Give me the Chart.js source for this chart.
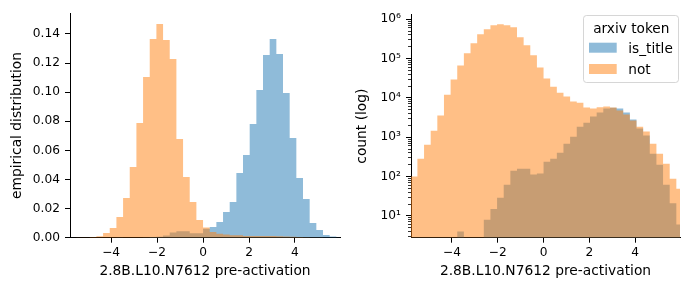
<!DOCTYPE html>
<html>
<head>
<meta charset="utf-8">
<script src="https://cdn.jsdelivr.net/npm/chart.js@4.4.1/dist/chart.umd.min.js"></script>
<style>
    html, body { margin: 0; padding: 0; background: #fff; }
    #wrap { position: relative; width: 689px; height: 290px; }
    canvas { position: absolute; top: 0; }
</style>
</head>
<body>
<div id="wrap">
    <canvas id="fracChart" width="345" height="290" style="left:0"></canvas>
    <canvas id="countChart" width="344" height="290" style="left:345px"></canvas>
</div>
<script>
// ---- data ----
const BIN_START = -5.80;
const BIN_WIDTH = 0.29;

const seriesNames = ['is_title', 'not'];

// left panel: fraction of tokens per bin
const fracTitle = [0, 0, 0, 0, 0, 0, 0, 0.0001, 0, 0, 0, 0.0002, 0.0004, 0.0007, 0.0015,
    0.0035, 0.0045, 0.0045, 0.0030, 0.0030, 0.0062, 0.0074, 0.0108, 0.0177, 0.0245,
    0.0444, 0.0568, 0.0781, 0.1015, 0.1256, 0.1366, 0.1263, 0.0995, 0.0685, 0.0411,
    0.0266, 0.0101, 0.0053, 0.0019, 0.0008, 0.0002];
const fracNot = [0, 0.0001, 0.0001, 0.0005, 0.0010, 0.0032, 0.0067, 0.0142, 0.0273, 0.0486,
    0.0788, 0.1104, 0.1366, 0.1469, 0.1359, 0.1228, 0.0678, 0.0417, 0.0245, 0.0122,
    0.0070, 0.0040, 0.0028, 0.0022, 0.0017, 0.0016, 0.0012, 0.0011, 0.0011, 0.0012,
    0.0011, 0.0010, 0.0008, 0.0006, 0.0004, 0.0003, 0.0001, 0.0001, 0, 0, 0];

// right panel: raw counts per bin (log axis)
const countTitle = [0, 0, 0, 0, 0, 0, 0, 4, 0, 0, 0, 8, 15, 29, 62,
    141, 158, 158, 113, 120, 239, 285, 405, 687, 1035,
    1860, 2350, 3360, 4250, 5370, 5600, 5370, 4250, 2810, 1660,
    1100, 382, 200, 62, 21, 6];
const countNot = [100, 285, 647, 1470, 3560, 12000, 29500, 67100, 136000, 244000,
    414000, 556000, 703000, 745000, 703000, 625000, 347000, 217000, 121000, 59700,
    31300, 19200, 13500, 10900, 8100, 7500, 5690, 5370, 5800, 6040,
    5700, 4780, 3780, 2650, 1860, 1390, 687, 382, 212, 88, 49];

const xTicks = [-4, -2, 0, 2, 4];
const fracTicks = [0, 0.02, 0.04, 0.06, 0.08, 0.10, 0.12, 0.14];
const countTicks = [10, 100, 1000, 10000, 100000, 1000000];

// ---- style ----
const FONT = "'DejaVu Sans', sans-serif";
Chart.defaults.font.family = FONT;
Chart.defaults.color = '#000';

const colors = {
    blue: 'rgba(31, 119, 180, 0.5)',
    orange: 'rgba(255, 127, 14, 0.5)'
};

const X_MIN = -5.79, X_MAX = 5.96;
const LOG_MIN = 2.79, LOG_MAX = 1.32e6;

const binEdges = [];
for (let i = 0; i <= fracNot.length; i++) binEdges.push(BIN_START + i * BIN_WIDTH);

// histogram outline as step points (left edge of each bin + closing right edge)
function stepPoints(values, floor) {
    const pts = values.map((v, i) => ({ x: binEdges[i], y: (floor && v <= 0) ? floor : v }));
    pts.push({ x: binEdges[values.length], y: pts[pts.length - 1].y });
    return pts;
}

function histDataset(label, values, color, order, floor) {
    return {
        label: label,
        data: stepPoints(values, floor),
        stepped: true,
        fill: 'start',
        backgroundColor: color,
        borderColor: 'transparent',
        borderWidth: 0,
        pointRadius: 0,
        order: order
    };
}

const minus = v => (v < 0 ? '\u2212' + Math.abs(v) : String(v));
const SUP = { '0': '\u2070', '1': '\u00b9', '2': '\u00b2', '3': '\u00b3', '4': '\u2074',
    '5': '\u2075', '6': '\u2076', '7': '\u2077', '8': '\u2078', '9': '\u2079' };

function xAxis() {
    return {
        type: 'linear',
        min: X_MIN,
        max: X_MAX,
        grid: { drawOnChartArea: false, tickLength: 5, tickColor: '#000', tickWidth: 1 },
        border: { color: '#000', width: 1 },
        ticks: { font: { size: 12.2 }, padding: 3, maxRotation: 0, autoSkip: false, callback: minus },
        afterBuildTicks: ax => { ax.ticks = xTicks.map(v => ({ value: v })); },
        afterFit: ax => { ax.height = 52.3; },
        title: { display: true, text: '2.8B.L10.N7612 pre-activation', font: { size: 13.8 },
                 padding: { top: 0, bottom: 10.7 } }
    };
}

// Chart 1: fraction per bin
new Chart(document.getElementById('fracChart'), {
    type: 'line',
    data: {
        datasets: [
            histDataset(seriesNames[0], fracTitle, colors.blue, 1),
            histDataset(seriesNames[1], fracNot, colors.orange, 0)
        ]
    },
    options: {
        responsive: false,
        animation: false,
        events: [],
        layout: { padding: { left: 0, right: 5, top: 13.3, bottom: 0 } },
        plugins: { legend: { display: false }, tooltip: { enabled: false } },
        scales: {
            x: xAxis(),
            y: {
                type: 'linear',
                min: 0,
                max: 0.1542,
                grid: { drawOnChartArea: false, tickLength: 5, tickColor: '#000', tickWidth: 1 },
                border: { color: '#000', width: 1 },
                ticks: { font: { size: 12.2 }, padding: 5, autoSkip: false,
                         callback: v => v.toFixed(2) },
                afterBuildTicks: ax => { ax.ticks = fracTicks.map(v => ({ value: v })); },
                afterFit: ax => { ax.width = 70; },
                title: { display: true, text: 'empirical distribution', font: { size: 13.8 },
                         padding: { top: 8.7, bottom: 0 } }
            }
        }
    }
});

// legend drawn matplotlib-style in the upper right of the count panel
const legendBox = {
    id: 'legendBox',
    afterDraw(chart) {
        const ctx = chart.ctx;
        const x0 = 238.5, y0 = 15.5, w = 95, h = 67, r = 3;
        ctx.save();
        ctx.beginPath();
        ctx.moveTo(x0 + r, y0);
        ctx.arcTo(x0 + w, y0, x0 + w, y0 + h, r);
        ctx.arcTo(x0 + w, y0 + h, x0, y0 + h, r);
        ctx.arcTo(x0, y0 + h, x0, y0, r);
        ctx.arcTo(x0, y0, x0 + w, y0, r);
        ctx.closePath();
        ctx.fillStyle = 'rgba(255,255,255,0.8)';
        ctx.fill();
        ctx.strokeStyle = 'rgba(204,204,204,0.8)';
        ctx.lineWidth = 1;
        ctx.stroke();

        ctx.font = '13.7px ' + FONT;
        ctx.fillStyle = '#000';
        ctx.textAlign = 'center';
        ctx.textBaseline = 'alphabetic';
        ctx.fillText('arxiv token', x0 + w / 2 + 0.3, 32.5);

        ctx.textAlign = 'left';
        chart.data.datasets.forEach((ds, i) => {
            const top = 42.7 + i * 21.3;
            ctx.fillStyle = ds.backgroundColor;
            ctx.fillRect(244, top, 27.7, 10);
            ctx.fillStyle = '#000';
            ctx.fillText(ds.label, 283.3, top + 10);
        });
        ctx.restore();
    }
};

const minorCountTicks = [];
for (let e = 0; e <= 6; e++) {
    for (let m = 2; m <= 9; m++) {
        const v = m * Math.pow(10, e);
        if (v > LOG_MIN && v < LOG_MAX) minorCountTicks.push(v);
    }
}

// Chart 2: counts on a log axis
new Chart(document.getElementById('countChart'), {
    type: 'line',
    data: {
        datasets: [
            histDataset(seriesNames[0], countTitle, colors.blue, 1, 1),
            histDataset(seriesNames[1], countNot, colors.orange, 0, 1)
        ]
    },
    options: {
        responsive: false,
        animation: false,
        events: [],
        layout: { padding: { left: 0, right: 9, top: 14.5, bottom: 0 } },
        plugins: { legend: { display: false }, tooltip: { enabled: false } },
        scales: {
            x: xAxis(),
            y: {
                type: 'logarithmic',
                position: 'left',
                weight: 1,
                min: LOG_MIN,
                max: LOG_MAX,
                grid: { drawOnChartArea: false, tickLength: 5, tickColor: '#000', tickWidth: 1 },
                border: { color: '#000', width: 1 },
                ticks: { font: { size: 12.2 }, padding: 5, autoSkip: false,
                         callback: v => '10' + SUP[String(Math.round(Math.log10(v)))] },
                afterBuildTicks: ax => { ax.ticks = countTicks.map(v => ({ value: v })); },
                afterFit: ax => { ax.width = 66; },
                title: { display: true, text: 'count (log)', font: { size: 13.8 },
                         padding: { top: 9.2, bottom: 0 } }
            },
            yMinor: {
                type: 'logarithmic',
                position: 'left',
                weight: 0,
                min: LOG_MIN,
                max: LOG_MAX,
                grid: { drawOnChartArea: false, tickLength: 3, tickColor: '#000', tickWidth: 0.8 },
                border: { display: false },
                ticks: { autoSkip: false, padding: 0, callback: () => '' },
                afterBuildTicks: ax => { ax.ticks = minorCountTicks.map(v => ({ value: v })); },
                afterFit: ax => { ax.width = 0; }
            }
        }
    },
    plugins: [legendBox]
});
</script>
</body>
</html>
